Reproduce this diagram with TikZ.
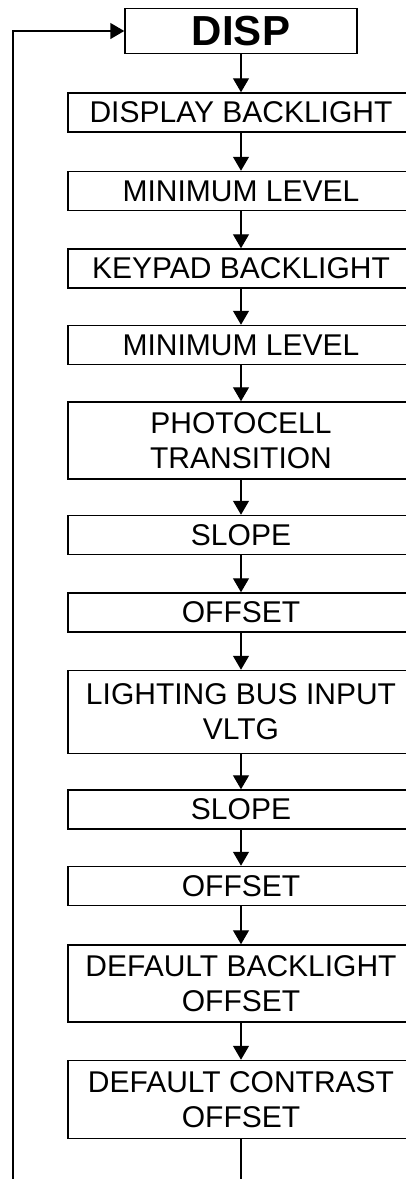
\documentclass[tikz,border=0pt]{standalone}
\usepackage{fontspec}
\setmainfont{Liberation Sans}
\usetikzlibrary{arrows.meta, positioning}

\begin{document}
\begin{tikzpicture}[
    x=1pt, y=-1pt,
    menu/.style={rectangle, draw, line width=1.5pt, minimum width=346pt,
                 minimum height=39pt, inner sep=0pt, align=center,
                 font=\fontsize{30}{35}\selectfont},
    menu2/.style={menu, minimum height=77pt},
    head/.style={rectangle, draw, line width=1.5pt, minimum width=232pt,
                 minimum height=45pt, inner sep=0pt,
                 font=\fontsize{42}{46}\selectfont\bfseries},
    arrow/.style={-{Triangle[length=14pt, width=16pt]}, line width=1.2pt},
    link/.style={line width=1.5pt}
  ]
    \useasboundingbox (0,0) rectangle (406,1179);

    % Title box
    \node[head] (disp) at (241,31) {DISP};

    % Menu column
    \node[menu, below=38pt of disp] (dbl) {DISPLAY BACKLIGHT};
    \node[menu, below=38pt of dbl] (dmin) {MINIMUM LEVEL};
    \node[menu, below=37pt of dmin] (kbl) {KEYPAD BACKLIGHT};
    \node[menu, below=36pt of kbl] (kmin) {MINIMUM LEVEL};
    \node[menu2, below=36pt of kmin] (photo) {PHOTOCELL\\TRANSITION};
    \node[menu, below=35pt of photo] (pslope) {SLOPE};
    \node[menu, below=37pt of pslope] (poff) {OFFSET};
    \node[menu2, minimum height=83pt, below=37pt of poff] (bus) {LIGHTING BUS INPUT\\VLTG};
    \node[menu, below=35pt of bus] (bslope) {SLOPE};
    \node[menu, below=36pt of bslope] (boff) {OFFSET};
    \node[menu2, below=38pt of boff] (defbl) {DEFAULT BACKLIGHT\\OFFSET};
    \node[menu2, minimum height=78pt, below=37pt of defbl] (defct) {DEFAULT CONTRAST\\OFFSET};

    % Loose ends at the bottom edge
    \coordinate (loopin) at (13,1179);
    \coordinate (out) at (defct.south |- loopin);

    % Arrows
    \draw[arrow] (disp) -- (dbl);
    \draw[arrow] (dbl) -- (dmin);
    \draw[arrow] (dmin) -- (kbl);
    \draw[arrow] (kbl) -- (kmin);
    \draw[arrow] (kmin) -- (photo);
    \draw[arrow] (photo) -- (pslope);
    \draw[arrow] (pslope) -- (poff);
    \draw[arrow] (poff) -- (bus);
    \draw[arrow] (bus) -- (bslope);
    \draw[arrow] (bslope) -- (boff);
    \draw[arrow] (boff) -- (defbl);
    \draw[arrow] (defbl) -- (defct);
    \draw[link] (defct) -- (out);
    \draw[link, -{Triangle[length=14pt, width=16pt]}] (loopin) |- (disp.west);
\end{tikzpicture}
\end{document}
